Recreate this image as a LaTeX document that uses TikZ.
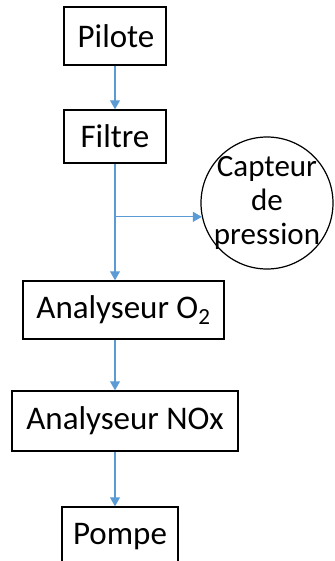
\documentclass[tikz,border=0pt]{standalone}
\usepackage{fontspec}
\setmainfont{Carlito}
\usetikzlibrary{arrows.meta}
\definecolor{flowblue}{HTML}{5B9BD5}
\tikzset{
  boxnode/.style={draw=black, line width=1.4pt, inner sep=0pt, font=\fontsize{33}{37}\selectfont, anchor=center},
  flow/.style={draw=flowblue, line width=1.1pt, -{Triangle[length=9pt,width=10pt]}},
  flowline/.style={draw=flowblue, line width=1.1pt}
}
\begin{document}
\begin{tikzpicture}[x=1pt,y=-1pt]
\useasboundingbox (0,0) rectangle (334,561);
\node[boxnode, minimum width=102pt, minimum height=58pt] (pil) at (115,36) {\hspace*{2pt}Pilote};
\node[boxnode, minimum width=102pt, minimum height=53pt] (fil) at (115,136.5) {Filtre};
\node[boxnode, minimum width=201pt, minimum height=58pt] (o2) at (123.5,310) {Analyseur O\textsubscript{2}};
\node[boxnode, minimum width=226pt, minimum height=60pt] (nox) at (125,421) {Analyseur NOx};
\node[boxnode, minimum width=116pt, minimum height=60pt] (pom) at (120,537) {Pompe};
\node[draw=black, line width=1.2pt, circle, minimum size=132pt, inner sep=-12pt, align=center, font=\fontsize{31}{34}\selectfont] (cap) at (267,203) {Capteur\\de\\pression};
\coordinate (br) at (fil.south |- cap.192);
\draw[flow] (pil.south) -- (fil.north);
\draw[flow] (fil.south) -- (fil.south |- o2.north);
\draw[flow] (br) -- (cap.192);
\draw[flow] (fil.south |- o2.south) -- (fil.south |- nox.north);
\draw[flow] (fil.south |- nox.south) -- (fil.south |- pom.north);
\end{tikzpicture}
\end{document}
